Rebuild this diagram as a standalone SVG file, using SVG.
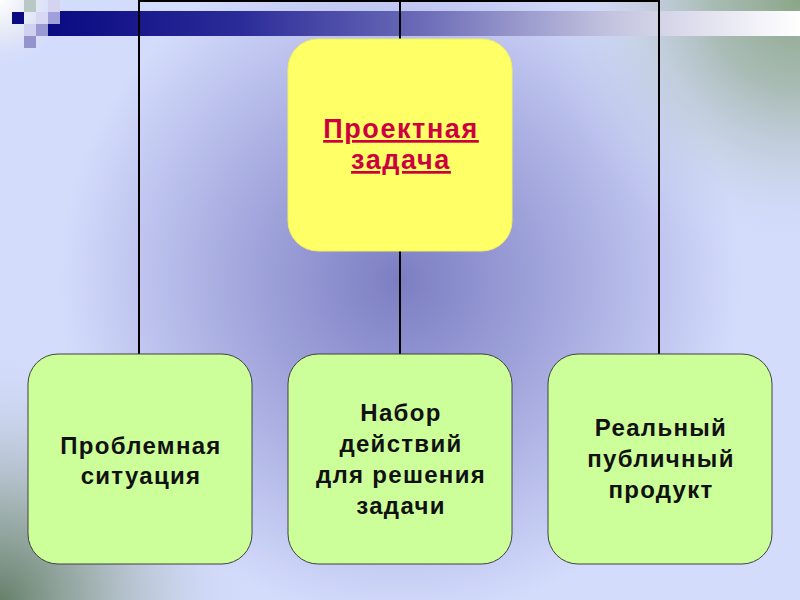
<svg xmlns="http://www.w3.org/2000/svg" width="800" height="600" viewBox="0 0 800 600">
<defs>
<radialGradient id="bgCenter" cx="400" cy="280" r="340" gradientUnits="userSpaceOnUse">
<stop offset="0" stop-color="#7c7ec2"/>
<stop offset="0.5" stop-color="#a6aadf"/>
<stop offset="1" stop-color="#d4dcfc"/>
</radialGradient>
<radialGradient id="cornerTR" cx="800" cy="0" r="260" gradientUnits="userSpaceOnUse">
<stop offset="0" stop-color="#8aa688" stop-opacity="1"/>
<stop offset="0.35" stop-color="#9fb4a4" stop-opacity="0.8"/>
<stop offset="1" stop-color="#d4dcfc" stop-opacity="0"/>
</radialGradient>
<radialGradient id="cornerBL" cx="0" cy="600" r="260" gradientUnits="userSpaceOnUse">
<stop offset="0" stop-color="#66806a" stop-opacity="1"/>
<stop offset="0.35" stop-color="#93a69c" stop-opacity="0.8"/>
<stop offset="1" stop-color="#d4dcfc" stop-opacity="0"/>
</radialGradient>
<radialGradient id="cornerTL" cx="0" cy="0" r="70" gradientUnits="userSpaceOnUse">
<stop offset="0" stop-color="#ffffff" stop-opacity="1"/>
<stop offset="0.5" stop-color="#e8ecf4" stop-opacity="0.8"/>
<stop offset="1" stop-color="#d4dcfc" stop-opacity="0"/>
</radialGradient>
<linearGradient id="bar" x1="48" y1="0" x2="800" y2="0" gradientUnits="userSpaceOnUse">
<stop offset="0" stop-color="#0a0a82"/>
<stop offset="0.25" stop-color="#2a2a98"/>
<stop offset="0.5" stop-color="#6c6cb8"/>
<stop offset="0.75" stop-color="#c4c4e0"/>
<stop offset="1" stop-color="#ffffff"/>
</linearGradient>
<style>
.conn{stroke:#000;stroke-width:2;fill:none}
.green{fill:#ccff99;stroke:#404040;stroke-width:1}
.yellow{fill:#ffff66;stroke:#f0f060;stroke-width:1}
.lbl{font-family:"Liberation Sans",Arial,sans-serif;font-weight:bold;font-size:24px;letter-spacing:1.3px;text-anchor:middle;fill:#111}
.title{font-family:"Liberation Sans",Arial,sans-serif;font-weight:bold;font-size:27px;letter-spacing:1.6px;text-anchor:middle;fill:#cc0040;text-decoration:underline}
</style>
</defs>
<g id="background">
<rect x="0" y="0" width="800" height="600" fill="url(#bgCenter)"/>
<rect x="0" y="0" width="800" height="600" fill="url(#cornerTR)"/>
<rect x="0" y="0" width="800" height="600" fill="url(#cornerBL)"/>
<rect x="0" y="0" width="800" height="600" fill="url(#cornerTL)"/>
<rect x="48" y="11" width="752" height="25" fill="url(#bar)"/>
<rect x="24" y="0" width="12" height="12" fill="#b8c8c4"/>
<rect x="48" y="0" width="12" height="12" fill="#d4d4f0"/>
<rect x="12" y="12" width="12" height="12" fill="#0a0a82"/>
<rect x="36" y="12" width="12" height="12" fill="#d8d8f2"/>
<rect x="48" y="12" width="12" height="12" fill="#a0a0d8"/>
<rect x="24" y="24" width="12" height="12" fill="#d0d0f0"/>
<rect x="36" y="24" width="12" height="12" fill="#9a9ad2"/>
<rect x="24" y="36" width="12" height="12" fill="#9494cc"/>
</g>
<g id="connectors">
<line class="conn" x1="139" y1="1" x2="659" y2="1"/>
<line class="conn" x1="139" y1="0" x2="139" y2="354"/>
<line class="conn" x1="400" y1="0" x2="400" y2="354"/>
<line class="conn" x1="659" y1="0" x2="659" y2="354"/>
</g>
<g id="node-project-task">
<rect class="yellow" x="288" y="39" width="224" height="212" rx="30" ry="30"/>
<text class="title" x="401" y="138">Проектная</text>
<text class="title" x="401" y="169">задача</text>
</g>
<g id="node-problem">
<rect class="green" x="28" y="354" width="224" height="210" rx="30" ry="30"/>
<text class="lbl" x="141" y="454">Проблемная</text>
<text class="lbl" x="141" y="484">ситуация</text>
</g>
<g id="node-actions">
<rect class="green" x="288" y="354" width="224" height="210" rx="30" ry="30"/>
<text class="lbl" x="401" y="421">Набор</text>
<text class="lbl" x="401" y="452">действий</text>
<text class="lbl" x="401" y="483">для решения</text>
<text class="lbl" x="401" y="514">задачи</text>
</g>
<g id="node-product">
<rect class="green" x="548" y="354" width="224" height="210" rx="30" ry="30"/>
<text class="lbl" x="661" y="436">Реальный</text>
<text class="lbl" x="661" y="467">публичный</text>
<text class="lbl" x="661" y="498">продукт</text>
</g>
</svg>
